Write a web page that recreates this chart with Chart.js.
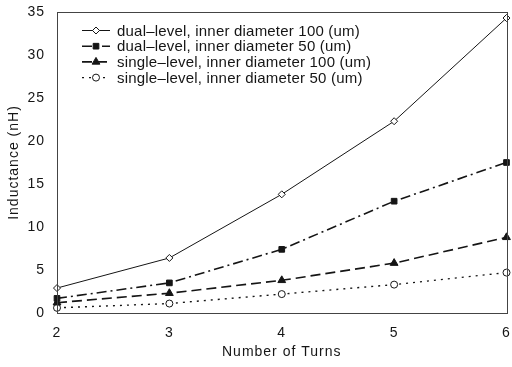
<!DOCTYPE html>
<html>
<head>
<meta charset="utf-8">
<script src="https://cdn.jsdelivr.net/npm/chart.js@4/dist/chart.umd.min.js"></script>
<style>
  html, body { margin: 0; padding: 0; background: #fff; }
  #wrap { width: 512px; height: 367px; }
</style>
</head>
<body>
<div id="wrap"><canvas id="chart"></canvas></div>
<script>
// Number of turns (x) and inductance in nH for each spiral variant
const turns = [2, 3, 4, 5, 6];
const dual100 = [2.9, 6.4, 13.8, 22.3, 34.3];
const dual50 = [1.7, 3.5, 7.4, 13.0, 17.5];
const single100 = [1.2, 2.3, 3.8, 5.8, 8.8];
const single50 = [0.6, 1.1, 2.2, 3.3, 4.7];
const yTicks = [0, 5, 10, 15, 20, 25, 30, 35];

const INK = '#151515';
const FONT = '"Liberation Sans", Arial, sans-serif';

const toPoints = values => values.map((v, i) => ({ x: turns[i], y: v }));

// frame on all four sides of the plot area
const framePlugin = {
  id: 'frame',
  beforeDraw(chart) {
    chart.ctx.letterSpacing = '1px';
  },
  afterDatasetsDraw(chart) {
    const { ctx, chartArea: a } = chart;
    ctx.save();
    ctx.strokeStyle = '#444';
    ctx.lineWidth = 1;
    ctx.setLineDash([]);
    ctx.strokeRect(Math.round(a.left) + 0.5, Math.round(a.top) + 0.5,
      Math.round(a.right - a.left), Math.round(a.bottom - a.top));
    ctx.restore();
  }
};

// legend with line sample + marker, drawn inside the plot
const lineLegend = {
  id: 'lineLegend',
  afterDraw(chart) {
    const { ctx, chartArea: a } = chart;
    ctx.save();
    ctx.font = '15px ' + FONT;
    ctx.letterSpacing = '0.2px';
    ctx.textBaseline = 'middle';
    chart.data.datasets.forEach((ds, i) => {
      const y = a.top + 18.5 + i * 15.7;
      const x0 = a.left + 25;
      ctx.strokeStyle = ds.borderColor;
      ctx.lineWidth = ds.borderWidth;
      ctx.setLineDash(ds.borderDash || []);
      ctx.beginPath();
      ctx.moveTo(x0, y);
      ctx.lineTo(x0 + 28, y);
      ctx.stroke();
      ctx.setLineDash([]);
      // drawPoint uses the current fill/stroke
      ctx.strokeStyle = ds.pointBorderColor;
      ctx.fillStyle = ds.pointBackgroundColor;
      ctx.lineWidth = 1;
      Chart.helpers.drawPoint(ctx, {
        pointStyle: ds.pointStyle,
        radius: ds.pointRadius,
        borderWidth: 1
      }, x0 + 14, y);
      ctx.fillStyle = INK;
      ctx.fillText(ds.label, x0 + 35, y + 1);
    });
    ctx.restore();
  }
};

function series(label, values, style, dash, width, radius, filled) {
  return {
    label,
    data: toPoints(values),
    borderColor: INK,
    borderWidth: width,
    borderDash: dash,
    pointStyle: style,
    pointRadius: radius,
    pointBorderWidth: 1,
    pointBorderColor: INK,
    pointBackgroundColor: filled ? INK : '#fff',
    tension: 0,
    clip: false
  };
}

new Chart(document.getElementById('chart'), {
  type: 'line',
  data: {
    datasets: [
      series('dual\u2013level, inner diameter 100 (um)', dual100, 'rectRot', [], 1, 3.5, false),
      series('dual\u2013level, inner diameter 50 (um)', dual50, 'rect', [10, 4, 2, 4], 1.6, 4, true),
      series('single\u2013level, inner diameter 100 (um)', single100, 'triangle', [10, 5], 1.6, 4.5, true),
      series('single\u2013level, inner diameter 50 (um)', single50, 'circle', [2, 5], 1.4, 3.5, false)
    ]
  },
  options: {
    responsive: true,
    maintainAspectRatio: false,
    animation: false,
    layout: { padding: { top: 12, right: 4, bottom: 0, left: 0 } },
    plugins: {
      legend: { display: false },
      tooltip: { enabled: false }
    },
    scales: {
      x: {
        type: 'linear',
        min: 2,
        max: 6,
        grid: { display: false, drawTicks: false },
        border: { display: false },
        afterBuildTicks(axis) {
          axis.ticks = turns.map(v => ({ value: v }));
        },
        afterFit(axis) {
          axis.height = 54;
          axis.paddingLeft = 0;
          axis.paddingRight = 0;
        },
        ticks: {
          padding: 12,
          color: INK,
          font: { family: FONT, size: 14 }
        },
        title: {
          display: true,
          text: 'Number of Turns',
          color: INK,
          padding: { top: 0, bottom: 6 },
          font: { family: FONT, size: 14 }
        }
      },
      y: {
        min: 0,
        max: 35,
        grid: { display: false, drawTicks: false },
        border: { display: false },
        afterBuildTicks(axis) {
          axis.ticks = yTicks.map(v => ({ value: v }));
        },
        afterFit(axis) {
          axis.width = 57;
          axis.paddingTop = 0;
          axis.paddingBottom = 0;
        },
        ticks: {
          padding: 12,
          color: INK,
          font: { family: FONT, size: 14 }
        },
        title: {
          display: true,
          text: 'Inductance (nH)',
          color: INK,
          padding: { top: 6, bottom: 0 },
          font: { family: FONT, size: 14 }
        }
      }
    }
  },
  plugins: [framePlugin, lineLegend]
});
</script>
</body>
</html>
